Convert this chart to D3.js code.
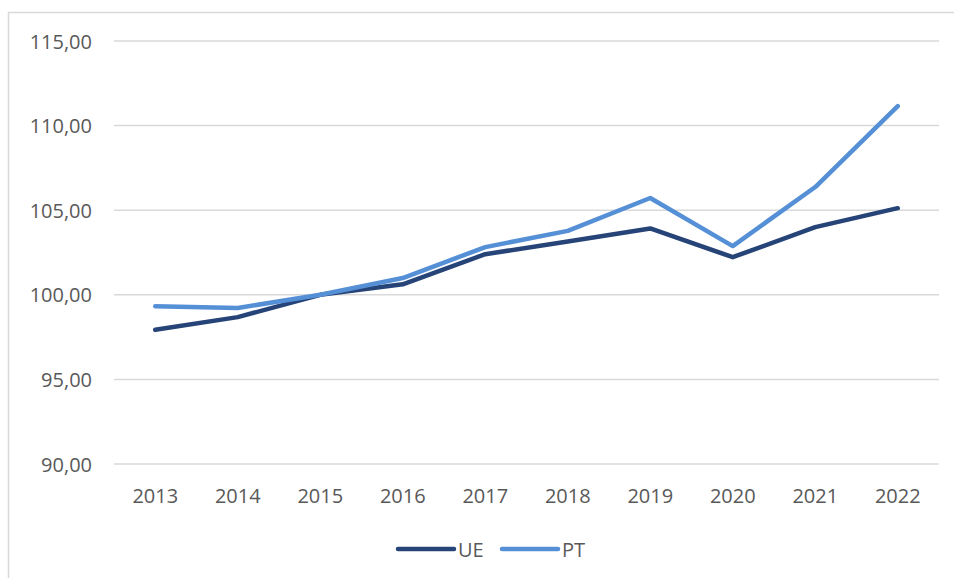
<!DOCTYPE html>
<html>
<head>
<meta charset="utf-8">
<script src="https://cdn.jsdelivr.net/npm/d3@7"></script>
<style>
  body { margin: 0; background: #fff; }
  svg text { font-family: "Open Sans", "Noto Sans", sans-serif; fill: #595959; }
</style>
</head>
<body>
<div id="chart"></div>
<script>
// Données
const years = ['2013', '2014', '2015', '2016', '2017', '2018', '2019', '2020', '2021', '2022']
const ue = [97.93, 98.68, 100.0, 100.62, 102.40, 103.15, 103.92, 102.22, 104.0, 105.12]
const pt = [99.33, 99.22, 100.0, 100.99, 102.82, 103.78, 105.72, 102.88, 106.37, 111.15]
const yTicks = [90, 95, 100, 105, 110, 115]
const series = [
    { name: 'UE', values: ue, color: '#264478' },
    { name: 'PT', values: pt, color: '#5590d6' }
]

const width = 954, height = 578
const margin = { top: 41, right: 15, bottom: 114, left: 114 }

const svg = d3.select('#chart')
    .append('svg')
    .attr('width', width)
    .attr('height', height)

// cadre du graphique
svg.append('rect')
    .attr('x', 8.5)
    .attr('y', 12.5)
    .attr('width', width + 20)
    .attr('height', height + 20)
    .attr('fill', 'none')
    .attr('stroke', '#d9d9d9')
    .attr('stroke-width', 1.5)

const x = d3.scaleBand()
    .domain(years)
    .range([margin.left, width - margin.right])

const y = d3.scaleLinear()
    .domain([90, 115])
    .range([height - margin.bottom, margin.top])

// grille
svg.append('g')
    .selectAll('line')
    .data(yTicks)
    .enter()
    .append('line')
    .attr('x1', margin.left)
    .attr('x2', width - margin.right)
    .attr('y1', d => y(d))
    .attr('y2', d => y(d))
    .attr('stroke', '#d9d9d9')
    .attr('stroke-width', 1.5)

// axe Y
const yAxis = svg.append('g')
    .attr('transform', 'translate(' + (margin.left - 22) + ',0)')
    .call(d3.axisLeft(y).tickValues(yTicks).tickSize(0)
        .tickFormat(d => d3.format('.2f')(d).replace('.', ',')))
yAxis.select('.domain').remove()
yAxis.selectAll('text')
    .attr('x', 0)
    .attr('dy', '0.35em')
    .style('font-size', '20px')
    .style('font-family', null)

// axe X
const xAxis = svg.append('g')
    .attr('transform', 'translate(0,' + (height - margin.bottom) + ')')
    .call(d3.axisBottom(x).tickSize(0))
xAxis.select('.domain').remove()
xAxis.selectAll('text')
    .attr('y', 0)
    .attr('dy', 39)
    .style('font-size', '20px')
    .style('font-family', null)

// lignes
const line = d3.line()
    .x((d, i) => x(years[i]) + x.bandwidth() / 2)
    .y(d => y(d))

svg.append('g')
    .selectAll('path')
    .data(series)
    .enter()
    .append('path')
    .attr('d', d => line(d.values))
    .attr('fill', 'none')
    .attr('stroke', d => d.color)
    .attr('stroke-width', 4.5)
    .attr('stroke-linejoin', 'round')
    .attr('stroke-linecap', 'round')

// légende
const legendX = [398, 502]
const legend = svg.append('g')
    .selectAll('g')
    .data(series)
    .enter()
    .append('g')
    .attr('transform', (d, i) => 'translate(' + legendX[i] + ',549)')

legend.append('line')
    .attr('x1', 0)
    .attr('x2', 56)
    .attr('stroke', d => d.color)
    .attr('stroke-width', 4.5)
    .attr('stroke-linecap', 'round')

legend.append('text')
    .attr('x', 60)
    .attr('y', 8)
    .style('font-size', '20px')
    .text(d => d.name)
</script>
</body>
</html>
